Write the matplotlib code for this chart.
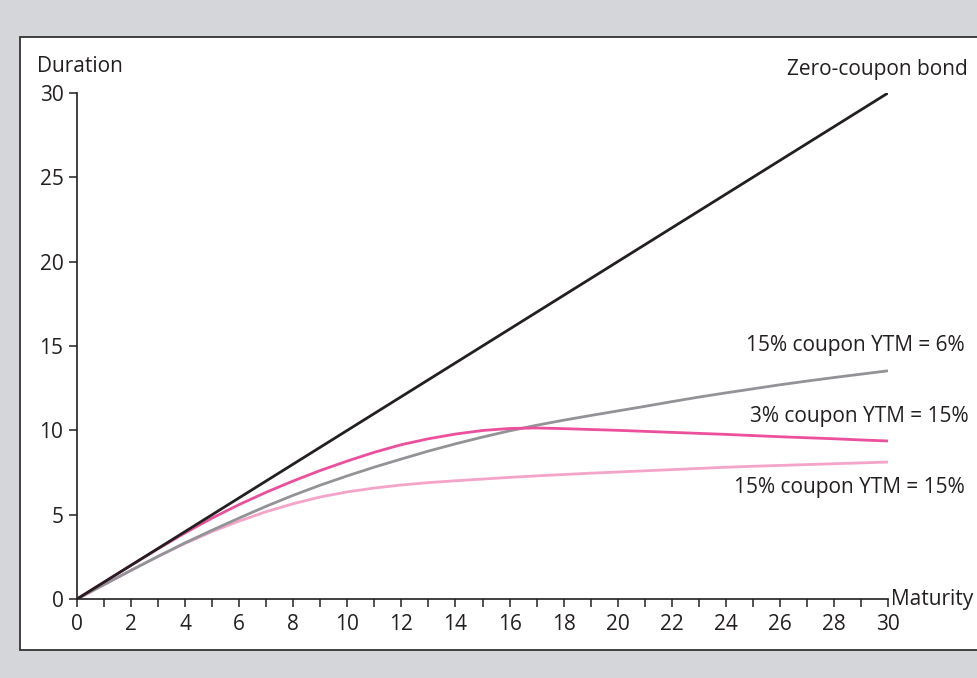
import matplotlib
matplotlib.use("Agg")
import matplotlib.pyplot as plt
from matplotlib.patches import Rectangle
from matplotlib.ticker import MultipleLocator

plt.rcParams['font.family'] = ['Open Sans', 'DejaVu Sans']

# Data
zero_mat = [0, 30]
zero_dur = [0, 30]

mat = list(range(0, 31))
dur_3c_15y = [0, 1.0, 2.0, 2.98, 3.92, 4.8, 5.6, 6.33, 7.0, 7.62, 8.18, 8.7, 9.15, 9.5, 9.78, 9.99,
              10.11, 10.14, 10.1, 10.05, 10.0, 9.94, 9.88, 9.82, 9.76, 9.69, 9.62, 9.56, 9.5, 9.43, 9.37]
dur_15c_6y = [0, 0.85, 1.7, 2.53, 3.33, 4.08, 4.8, 5.5, 6.15, 6.75, 7.3, 7.82, 8.3, 8.77, 9.2, 9.6,
              9.97, 10.3, 10.6, 10.88, 11.15, 11.42, 11.7, 11.97, 12.22, 12.46, 12.7, 12.92, 13.13, 13.33, 13.53]
dur_15c_15y = [0, 0.85, 1.7, 2.52, 3.3, 4.0, 4.62, 5.18, 5.65, 6.05, 6.35, 6.58, 6.76, 6.9, 7.01, 7.11,
               7.21, 7.3, 7.38, 7.46, 7.53, 7.6, 7.67, 7.74, 7.81, 7.87, 7.92, 7.97, 8.02, 8.07, 8.12]

labels = ["Zero-coupon bond", "15% coupon YTM = 6%", "3% coupon YTM = 15%", "15% coupon YTM = 15%"]

W, H = 977, 678
fig = plt.figure(figsize=(W / 100, H / 100), dpi=100)
fig.patch.set_facecolor('#d5d6da')

panel = Rectangle((20 / W, 1 - 650 / H), 1.0, (650 - 37) / H, transform=fig.transFigure,
                  facecolor='white', edgecolor='#333333', linewidth=1.3, zorder=-5)
fig.patches.append(panel)

ax = fig.add_axes([77 / W, 1 - 599 / H, (888 - 77) / W, (599 - 93) / H])
ax.set_zorder(2)
ax.set_facecolor('none')

ax.plot(mat, dur_15c_15y, color='#f4a3c9', lw=2.0, solid_capstyle='butt')
ax.plot(mat, dur_15c_6y, color='#929397', lw=2.0, solid_capstyle='butt')
ax.plot(mat, dur_3c_15y, color='#ec4f9c', lw=2.0, solid_capstyle='butt')
ax.plot(zero_mat, zero_dur, color='#231f20', lw=2.0, solid_capstyle='butt')

ax.set_xlim(0, 30)
ax.set_ylim(0, 30)
for s in ['top', 'right']:
    ax.spines[s].set_visible(False)
for s in ['left', 'bottom']:
    ax.spines[s].set_linewidth(1.2)
    ax.spines[s].set_color('#231f20')

FS = 15
ax.xaxis.set_major_locator(MultipleLocator(2))
ax.xaxis.set_minor_locator(MultipleLocator(1))
ax.yaxis.set_major_locator(MultipleLocator(5))
ax.tick_params(axis='x', which='both', direction='out', length=5.5, width=1.1, color='#231f20',
               labelsize=FS, labelcolor='#231f20', pad=5)
ax.tick_params(axis='y', which='both', direction='out', length=5.8, width=1.1, color='#231f20',
               labelsize=FS, labelcolor='#231f20', pad=4)

tc = '#231f20'
fig.text(37 / W, 1 - 66 / H, "Duration", ha='left', va='center', fontsize=FS, color=tc)
ax.text(1.004, 0.0, "Maturity", transform=ax.transAxes, ha='left', va='center', fontsize=FS, color=tc)

fig.text(968 / W, 1 - 70 / H, labels[0], ha='right', va='center', fontsize=FS, color=tc)
fig.text(965 / W, 1 - 346 / H, labels[1], ha='right', va='center', fontsize=FS, color=tc)
fig.text(969 / W, 1 - 417 / H, labels[2], ha='right', va='center', fontsize=FS, color=tc)
fig.text(965 / W, 1 - 488 / H, labels[3], ha='right', va='center', fontsize=FS, color=tc)

fig.savefig("out.png", dpi=100, facecolor=fig.get_facecolor())
